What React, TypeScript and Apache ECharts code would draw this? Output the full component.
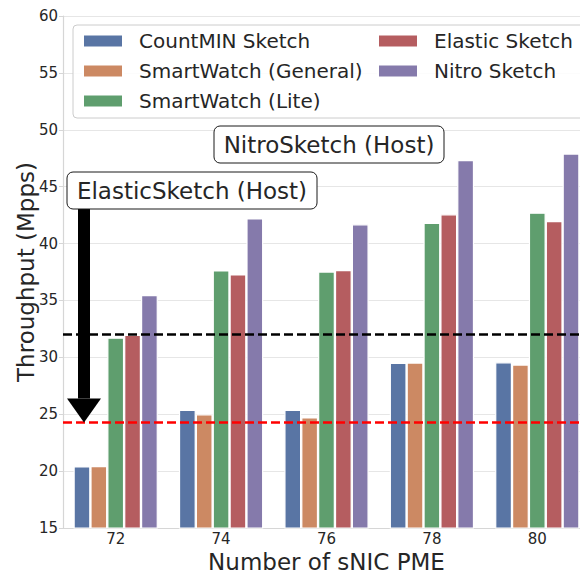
import React, { useEffect, useRef } from "react";
import * as echarts from "echarts";

const categories = ["72", "74", "76", "78", "80"];
const seriesNames = [
  "CountMIN Sketch",
  "SmartWatch (General)",
  "SmartWatch (Lite)",
  "Elastic Sketch",
  "Nitro Sketch",
];
const countMin = [20.42, 25.38, 25.38, 29.52, 29.57];
const smartWatchGeneral = [20.45, 25.0, 24.72, 29.55, 29.37];
const smartWatchLite = [31.74, 37.65, 37.55, 41.82, 42.72];
const elasticSketch = [31.98, 37.3, 37.68, 42.58, 41.98];
const nitroSketch = [35.48, 42.22, 41.7, 47.35, 47.92];
const elasticHost = 24.28;
const nitroHost = 32.04;
const yTicks = { min: 15, max: 60, interval: 5 };

const colors = ["#5975a4", "#cc8963", "#5f9e6e", "#b55d60", "#857aab"];
const FONT = "DejaVu Sans";
const TXT = "#262626";

export default function App() {
  const ref = useRef<HTMLDivElement>(null);
  useEffect(() => {
    const chart = echarts.init(ref.current!, null, { renderer: "svg" });
    const values = [countMin, smartWatchGeneral, smartWatchLite, elasticSketch, nitroSketch];
    const legendText = {
      fontSize: 20,
      fontFamily: FONT,
      color: TXT,
      lineHeight: 22,
      padding: [0, 0, 0, 11],
    };
    chart.setOption({
      animation: false,
      textStyle: { fontFamily: FONT, color: TXT },
      grid: {
        left: 63,
        right: -10,
        top: 16,
        bottom: 47,
        containLabel: false,
        outerBoundsMode: "none",
      },
      legend: [
        {
          data: seriesNames.slice(0, 3),
          orient: "vertical",
          left: 82,
          top: 30,
          padding: 0,
          itemWidth: 40,
          itemHeight: 13,
          itemGap: 8,
          icon: "rect",
          selectedMode: false,
          textStyle: legendText,
          z: 10,
        },
        {
          data: seriesNames.slice(3),
          orient: "vertical",
          left: 377,
          top: 30,
          padding: 0,
          itemWidth: 40,
          itemHeight: 13,
          itemGap: 8,
          icon: "rect",
          selectedMode: false,
          textStyle: legendText,
          z: 10,
        },
      ],
      xAxis: {
        type: "category",
        data: categories,
        name: "Number of sNIC PME",
        nameLocation: "middle",
        nameGap: 22,
        nameMoveOverlap: false,
        nameTextStyle: { fontSize: 23, lineHeight: 23, fontFamily: FONT, color: TXT },
        axisLine: { show: true, lineStyle: { color: "#d6d6d6", width: 1.2 } },
        axisTick: { show: false },
        axisLabel: { fontSize: 15, lineHeight: 14, fontFamily: FONT, color: TXT, margin: 4 },
        splitLine: { show: false },
      },
      yAxis: {
        type: "value",
        min: yTicks.min,
        max: yTicks.max,
        interval: yTicks.interval,
        name: "Throughput (Mpps)",
        nameLocation: "middle",
        nameGap: 26,
        nameMoveOverlap: false,
        nameTextStyle: { fontSize: 23, fontFamily: FONT, color: TXT },
        axisLine: { show: true, lineStyle: { color: "#d6d6d6", width: 1.2 } },
        axisTick: { show: true, length: 4, lineStyle: { color: "#d6d6d6" } },
        axisLabel: { fontSize: 15, fontFamily: FONT, color: TXT, margin: 5 },
        splitLine: { show: true, lineStyle: { color: "#e6e6e6", width: 1.2 } },
      },
      series: seriesNames.map((name, i) => ({
        name,
        type: "bar",
        data: values[i],
        barGap: "0%",
        barCategoryGap: "20%",
        itemStyle: { color: colors[i], borderColor: "#ffffff", borderWidth: 1.2 },
        ...(i === 4
          ? {
              markLine: {
                silent: true,
                symbol: ["none", "none"],
                label: { show: false },
                data: [
                  { yAxis: nitroHost, lineStyle: { color: "#000000", type: [9, 4], width: 2.5 } },
                  { yAxis: elasticHost, lineStyle: { color: "#ff0000", type: [9, 4], width: 2.5 } },
                ],
              },
            }
          : {}),
      })),
    });

    const tipY = chart.convertToPixel({ yAxisIndex: 0 }, elasticHost) as number;
    const ax = 84;
    const headH = 24;
    chart.setOption({
      graphic: [
        {
          type: "rect",
          z: 5,
          shape: { x: 73, y: 25, width: 520, height: 93, r: 4 },
          style: { fill: "rgba(255,255,255,0.85)", stroke: "#cccccc", lineWidth: 1 },
        },
        {
          type: "rect",
          z: 20,
          shape: { x: ax - 6, y: 209, width: 12, height: tipY - headH - 209 },
          style: { fill: "#000000" },
        },
        {
          type: "polygon",
          z: 20,
          shape: {
            points: [
              [ax - 17, tipY - headH],
              [ax + 17, tipY - headH],
              [ax, tipY],
            ],
          },
          style: { fill: "#000000" },
        },
        {
          type: "rect",
          z: 21,
          shape: { x: 67, y: 172, width: 250, height: 37, r: 6 },
          style: { fill: "#ffffff", stroke: "#1a1a1a", lineWidth: 1 },
        },
        {
          type: "text",
          z: 22,
          x: 192,
          y: 191,
          style: {
            text: "ElasticSketch (Host)",
            fontSize: 23,
            fontFamily: FONT,
            fill: TXT,
            align: "center",
            verticalAlign: "middle",
          },
        },
        {
          type: "rect",
          z: 21,
          shape: { x: 214, y: 126, width: 230, height: 37, r: 6 },
          style: { fill: "#ffffff", stroke: "#1a1a1a", lineWidth: 1 },
        },
        {
          type: "text",
          z: 22,
          x: 329,
          y: 145,
          style: {
            text: "NitroSketch (Host)",
            fontSize: 23,
            fontFamily: FONT,
            fill: TXT,
            align: "center",
            verticalAlign: "middle",
          },
        },
      ],
    });
    return () => chart.dispose();
  }, []);
  return (
    <div
      ref={ref}
      style={{ position: "fixed", left: 0, top: 0, width: 580, height: 575, background: "#ffffff" }}
    />
  );
}
